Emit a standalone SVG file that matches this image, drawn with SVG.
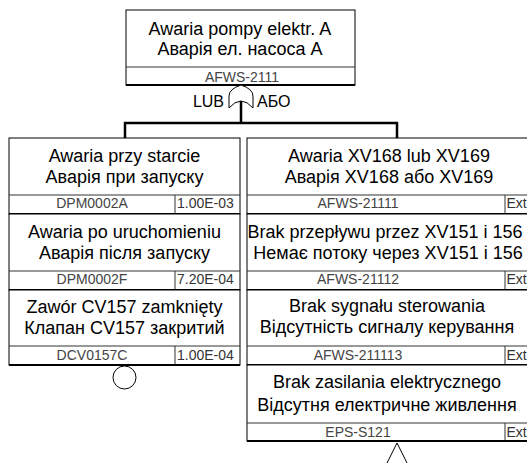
<svg xmlns="http://www.w3.org/2000/svg" width="527" height="463" viewBox="0 0 527 463">
<style>
.box{fill:#fff;stroke:#000;stroke-width:1}
.div{stroke:#333;stroke-width:1;fill:none}
.bot{stroke:#000;stroke-width:2;fill:none}
.t{font-family:"Liberation Sans",Arial,sans-serif;font-size:18px;fill:#000;text-anchor:middle}
.id{font-family:"Liberation Sans",Arial,sans-serif;font-size:14px;fill:#444;text-anchor:middle}
.p{font-family:"Liberation Sans",Arial,sans-serif;font-size:14px;fill:#333;text-anchor:start}
.g{font-family:"Liberation Sans",Arial,sans-serif;font-size:16px;fill:#000}
.con{stroke:#000;stroke-width:2.5;fill:none}
.sym{stroke:#000;stroke-width:1;fill:#fff}
</style>
<rect width="527" height="463" fill="#fff"/>
<g id="connectors">
<line class="con" x1="241" y1="101" x2="241" y2="123"/>
<line class="con" x1="124" y1="123" x2="398" y2="123"/>
<line class="con" x1="125" y1="122" x2="125" y2="138"/>
<line class="con" x1="397" y1="122" x2="397" y2="138"/>
</g>
<g id="top">
<rect class="box" x="126" y="10" width="229" height="75"/>
<line class="div" x1="126" y1="67" x2="355" y2="67"/>
<line class="bot" x1="126" y1="85" x2="355" y2="85"/>
<text class="t" x="240" y="35">Awaria pompy elektr. A</text>
<text class="t" x="240" y="55">Аварія ел. насоса А</text>
<text class="id" x="242" y="81.5">AFWS-2111</text>
</g>
<g id="gate">
<path class="sym" d="M229,108 L229,96 Q229,89 241,85 Q253,89 253,96 L253,108 Q241,94 229,108 Z"/>
<text class="g" x="224" y="106.5" text-anchor="end">LUB</text>
<text class="g" x="257" y="106.5">АБО</text>
</g>
<g id="L1">
<rect class="box" x="9" y="138" width="231" height="76"/>
<line class="div" x1="9" y1="195" x2="240" y2="195"/>
<line class="div" x1="175" y1="195" x2="175" y2="214"/>
<line class="bot" x1="9" y1="214" x2="240" y2="214"/>
<text class="t" x="124.5" y="162">Awaria przy starcie</text>
<text class="t" x="124.5" y="182.5">Аварія при запуску</text>
<text class="id" x="92" y="208">DPM0002A</text>
<text class="p" x="177" y="208">1.00E-03</text>
</g>
<g id="L2">
<rect class="box" x="9" y="214" width="231" height="76"/>
<line class="div" x1="9" y1="271" x2="240" y2="271"/>
<line class="div" x1="175" y1="271" x2="175" y2="290"/>
<line class="bot" x1="9" y1="290" x2="240" y2="290"/>
<text class="t" x="124.5" y="238">Awaria po uruchomieniu</text>
<text class="t" x="124.5" y="258.5">Аварія після запуску</text>
<text class="id" x="92" y="284">DPM0002F</text>
<text class="p" x="177" y="284">7.20E-04</text>
</g>
<g id="L3">
<rect class="box" x="9" y="290" width="231" height="75"/>
<line class="div" x1="9" y1="346" x2="240" y2="346"/>
<line class="div" x1="175" y1="346" x2="175" y2="365"/>
<line class="bot" x1="9" y1="365" x2="240" y2="365"/>
<text class="t" x="124.5" y="313">Zawór CV157 zamknięty</text>
<text class="t" x="124.5" y="334">Клапан CV157 закритий</text>
<text class="id" x="92" y="359.5">DCV0157C</text>
<text class="p" x="177" y="359.5">1.00E-04</text>
<circle class="sym" cx="124.5" cy="377.5" r="11.5"/>
</g>
<g id="R1">
<rect class="box" x="247" y="138" width="300" height="76"/>
<line class="div" x1="247" y1="195" x2="547" y2="195"/>
<line class="div" x1="505" y1="195" x2="505" y2="214"/>
<line class="bot" x1="247" y1="214" x2="547" y2="214"/>
<text class="t" x="389" y="162">Awaria XV168 lub XV169</text>
<text class="t" x="389" y="182.5">Аварія XV168 або XV169</text>
<text class="id" x="358" y="208">AFWS-21111</text>
<text class="p" x="506.5" y="208">Ext</text>
</g>
<g id="R2">
<rect class="box" x="247" y="214" width="300" height="76"/>
<line class="div" x1="247" y1="271" x2="547" y2="271"/>
<line class="div" x1="505" y1="271" x2="505" y2="290"/>
<line class="bot" x1="247" y1="290" x2="547" y2="290"/>
<text class="t" x="385" y="238">Brak przepływu przez XV151 i 156</text>
<text class="t" x="388" y="258.5">Немає потоку через XV151 і 156</text>
<text class="id" x="358" y="284">AFWS-21112</text>
<text class="p" x="506.5" y="284">Ext</text>
</g>
<g id="R3">
<rect class="box" x="247" y="290" width="300" height="75"/>
<line class="div" x1="247" y1="346" x2="547" y2="346"/>
<line class="div" x1="505" y1="346" x2="505" y2="365"/>
<line class="bot" x1="247" y1="365" x2="547" y2="365"/>
<text class="t" x="387" y="312">Brak sygnału sterowania</text>
<text class="t" x="387" y="333">Відсутність сигналу керування</text>
<text class="id" x="358" y="359.5">AFWS-211113</text>
<text class="p" x="506.5" y="359.5">Ext</text>
</g>
<g id="R4">
<rect class="box" x="247" y="365" width="300" height="76"/>
<line class="div" x1="247" y1="423" x2="547" y2="423"/>
<line class="div" x1="505" y1="423" x2="505" y2="441"/>
<line class="bot" x1="247" y1="441" x2="547" y2="441"/>
<text class="t" x="387" y="388">Brak zasilania elektrycznego</text>
<text class="t" x="387" y="411">Відсутня електричне живлення</text>
<text class="id" x="358" y="437">EPS-S121</text>
<text class="p" x="506.5" y="437">Ext</text>
<path class="sym" d="M397,443 L382,473 L412,473 Z"/>
</g>
</svg>
